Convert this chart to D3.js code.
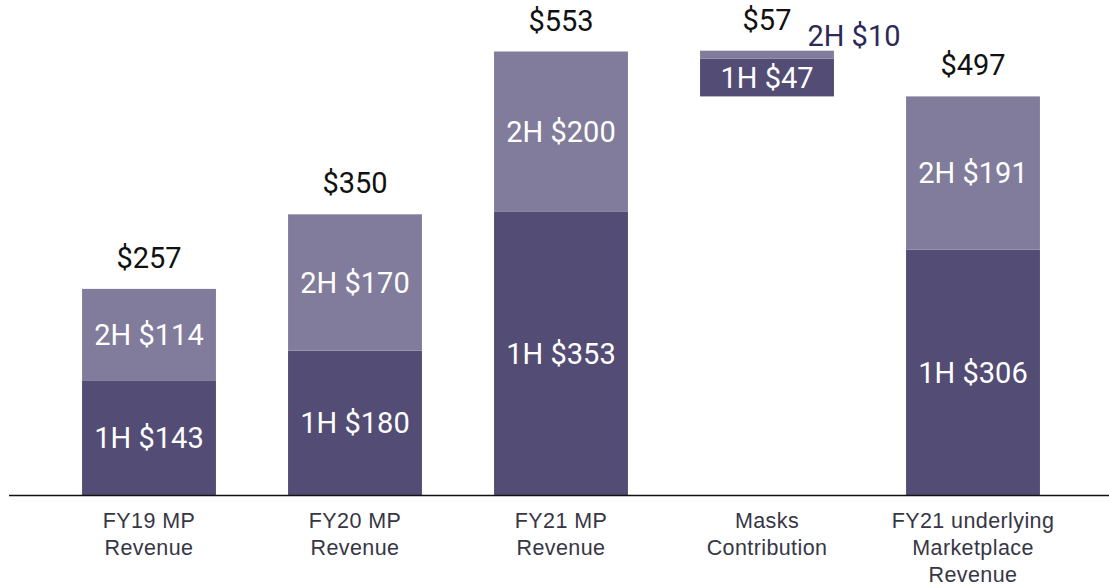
<!DOCTYPE html>
<html>
<head>
<meta charset="utf-8">
<script src="https://cdn.jsdelivr.net/npm/d3@7"></script>
<style>
  body { margin: 0; background: #fff; }
  svg { display: block; }
</style>
</head>
<body>
<div id="chart"></div>
<script>
const categories = [
  ["FY19 MP", "Revenue"],
  ["FY20 MP", "Revenue"],
  ["FY21 MP", "Revenue"],
  ["Masks", "Contribution"],
  ["FY21 underlying", "Marketplace", "Revenue"]
];
const base = [0, 0, 0, 497, 0];
const firstHalf = [143, 180, 353, 47, 306];
const secondHalf = [114, 170, 200, 10, 191];
const totals = ["$257", "$350", "$553", "$57", "$497"];

const W = 1109, H = 587;
const dark = "#534c74", light = "#817c9b";

const svg = d3.select("#chart")
    .append("svg")
    .attr("width", W)
    .attr("height", H);

const x = d3.scaleBand()
    .domain(d3.range(categories.length))
    .range([46, 1076])
    .paddingInner(0.35)
    .paddingOuter(0.175);

const y = d3.scaleLinear()
    .domain([0, 553])
    .range([495, 51.5]);

const rows = categories.map((c, i) => ({
    i: i,
    b: base[i],
    h1: firstHalf[i],
    h2: secondHalf[i]
}));

// 1H segment
svg.selectAll(".h1")
    .data(rows)
    .enter()
    .append("rect")
    .attr("x", d => x(d.i))
    .attr("width", x.bandwidth())
    .attr("y", d => y(d.b + d.h1))
    .attr("height", d => y(d.b) - y(d.b + d.h1))
    .attr("fill", dark);

// 2H segment
svg.selectAll(".h2")
    .data(rows)
    .enter()
    .append("rect")
    .attr("x", d => x(d.i))
    .attr("width", x.bandwidth())
    .attr("y", d => y(d.b + d.h1 + d.h2))
    .attr("height", d => y(d.b + d.h1) - y(d.b + d.h1 + d.h2))
    .attr("fill", light);

const labelFont = "Roboto, 'Noto Sans', sans-serif";
const labelSize = "29px";

// segment labels
svg.selectAll(".l1")
    .data(rows)
    .enter()
    .append("text")
    .attr("x", d => x(d.i) + x.bandwidth() / 2)
    .attr("y", d => (y(d.b) + y(d.b + d.h1)) / 2)
    .attr("dy", "0.36em")
    .attr("text-anchor", "middle")
    .style("font-family", labelFont)
    .style("font-size", labelSize)
    .attr("fill", "#fff")
    .text(d => "1H $" + d.h1);

svg.selectAll(".l2")
    .data(rows.filter(d => d.h2 > 30))
    .enter()
    .append("text")
    .attr("x", d => x(d.i) + x.bandwidth() / 2)
    .attr("y", d => (y(d.b + d.h1) + y(d.b + d.h1 + d.h2)) / 2)
    .attr("dy", "0.36em")
    .attr("text-anchor", "middle")
    .style("font-family", labelFont)
    .style("font-size", labelSize)
    .attr("fill", "#fff")
    .text(d => "2H $" + d.h2);

// small 2H label beside masks bar
const m = rows[3];
svg.append("text")
    .attr("x", x(m.i) + x.bandwidth() + 20)
    .attr("y", y(m.b + m.h1 + m.h2) - 5)
    .attr("text-anchor", "middle")
    .style("font-family", labelFont)
    .style("font-size", labelSize)
    .attr("fill", "#2c2858")
    .text("2H $" + m.h2);

// totals
svg.selectAll(".tot")
    .data(rows)
    .enter()
    .append("text")
    .attr("x", d => x(d.i) + x.bandwidth() / 2)
    .attr("y", d => y(d.b + d.h1 + d.h2) - 21)
    .attr("text-anchor", "middle")
    .style("font-family", labelFont)
    .style("font-size", labelSize)
    .attr("fill", "#111")
    .text(d => totals[d.i]);

// baseline
svg.append("line")
    .attr("x1", 9)
    .attr("x2", W)
    .attr("y1", y(0) + 0.5)
    .attr("y2", y(0) + 0.5)
    .attr("stroke", "#111")
    .attr("stroke-width", 1.5);

// category labels
const cat = svg.selectAll(".cat")
    .data(categories)
    .enter()
    .append("text")
    .attr("text-anchor", "middle")
    .style("font-family", "'Liberation Sans', Arial, sans-serif")
    .style("font-size", "21.5px")
    .style("letter-spacing", "0.4px")
    .attr("fill", "#363645");

cat.selectAll("tspan")
    .data((d, i) => d.map(t => ({ t: t, i: i })))
    .enter()
    .append("tspan")
    .attr("x", d => x(d.i) + x.bandwidth() / 2)
    .attr("y", (d, j) => 528 + j * 27)
    .text(d => d.t);
</script>
</body>
</html>
